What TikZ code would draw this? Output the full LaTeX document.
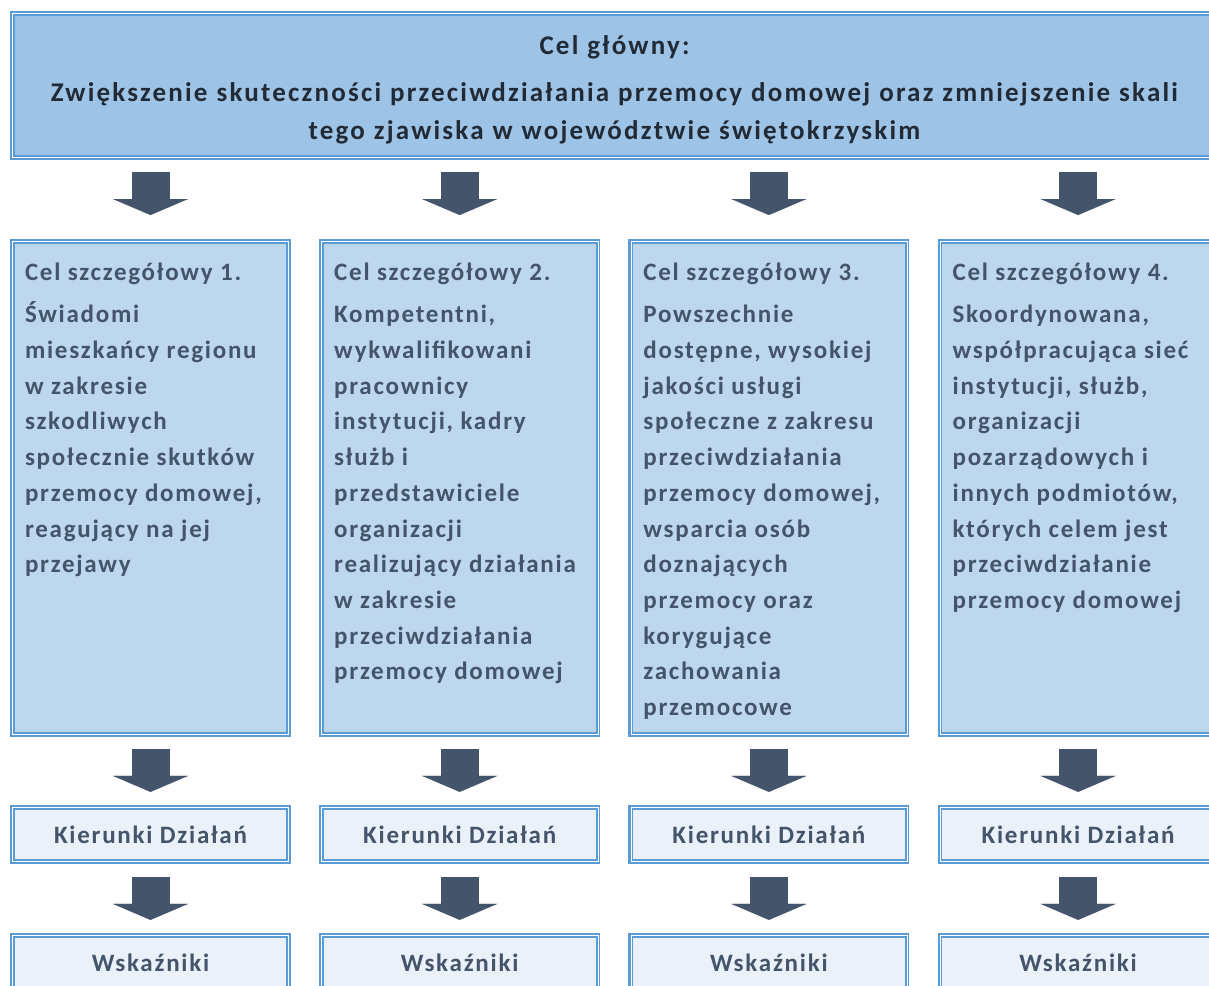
\documentclass[tikz,border=0pt]{standalone}
\usepackage{fontspec}
\setmainfont{Carlito}[LetterSpace=7]
\newfontfamily\topfont{Carlito}[LetterSpace=8.2]
\usepackage{tikz}
\usetikzlibrary{arrows.meta}

\definecolor{boxblue}{HTML}{5B9BD5}
\definecolor{topfill}{HTML}{9DC3E6}
\definecolor{celfill}{HTML}{BDD7EE}
\definecolor{lowfill}{HTML}{EBF1F9}
\definecolor{slate}{HTML}{44546A}
\definecolor{navy}{HTML}{222A35}

% text of one column box, top aligned
\newcommand{\celtxt}[1]{\begin{minipage}[c][493pt][t]{251pt}%
  \fontsize{25pt}{35.7pt}\selectfont\bfseries\raggedright
  \rule{0pt}{38.65pt}#1\end{minipage}}

\begin{document}
\begin{tikzpicture}[x=1pt, y=-1pt,
  frame/.style={draw=boxblue, line width=2.1pt, double=white, double distance=0.5pt},
  topbox/.style={frame, fill=topfill, minimum width=1204.3pt, minimum height=144.3pt,
    text width=1180pt, align=center, text=navy,
    font=\topfont\fontsize{27pt}{38pt}\selectfont\bfseries},
  celbox/.style={frame, fill=celfill, inner xsep=12.65pt, inner ysep=0pt, text=slate},
  lowbox/.style={frame, fill=lowfill, minimum width=276.3pt, minimum height=54.3pt,
    text=slate, font=\fontsize{25pt}{30pt}\selectfont\bfseries},
  blockarrow/.style={draw=slate, line width=38pt,
    -{Triangle[width=75pt, length=16pt, line width=0.1pt]}}]
  \useasboundingbox (0,0) rectangle (1209,985);
  \clip (0,0) rectangle (1209,985);

  % Main goal
  \node[topbox] (main) at (614.5,85.5) {\rule{0pt}{27pt}Cel główny:\\[9pt]
    Zwiększenie skuteczności przeciwdziałania przemocy domowej oraz zmniejszenie skali\\
    tego zjawiska w województwie świętokrzyskim};

  % Specific goals
  \node[celbox] (cel1) at (150.5,488) {\celtxt{Cel szczegółowy 1.\\[7pt]
    Świadomi\\ mieszkańcy regionu\\ w zakresie\\ szkodliwych\\ społecznie skutków\\
    przemocy domowej,\\ reagujący na jej\\ przejawy}};
  \node[celbox] (cel2) at (459.7,488) {\celtxt{Cel szczegółowy 2.\\[7pt]
    Kompetentni,\\ wykwalifikowani\\ pracownicy\\ instytucji, kadry\\ służb i\\
    przedstawiciele\\ organizacji\\ realizujący działania\\ w zakresie\\
    przeciwdziałania\\ przemocy domowej}};
  \node[celbox] (cel3) at (768.9,488) {\celtxt{Cel szczegółowy 3.\\[7pt]
    Powszechnie\\ dostępne, wysokiej\\ jakości usługi\\ społeczne z zakresu\\
    przeciwdziałania\\ przemocy domowej,\\ wsparcia osób\\ doznających\\
    przemocy oraz\\ korygujące\\ zachowania\\ przemocowe}};
  \node[celbox] (cel4) at (1078.1,488) {\celtxt{Cel szczegółowy 4.\\[7pt]
    Skoordynowana,\\ współpracująca sieć\\ instytucji, służb,\\ organizacji\\
    pozarządowych i\\ innych podmiotów,\\ których celem jest\\ przeciwdziałanie\\
    przemocy domowej}};

  % Lower boxes and arrows
  \foreach \i/\x in {1/150.5, 2/459.7, 3/768.9, 4/1078.1} {
    \node[lowbox] (kier\i) at (\x,834.5) {Kierunki Działań};
    \node[lowbox] (wsk\i) at (\x,962.5) {Wskaźniki};
    \draw[blockarrow, shorten <=13.4pt, shorten >=25.4pt] (main.south -| cel\i.north) -- (cel\i.north);
    \draw[blockarrow, shorten <=13.4pt, shorten >=14.4pt] (cel\i.south) -- (kier\i.north);
    \draw[blockarrow, shorten <=14.4pt, shorten >=14.4pt] (kier\i.south) -- (wsk\i.north);
  }
\end{tikzpicture}
\end{document}
